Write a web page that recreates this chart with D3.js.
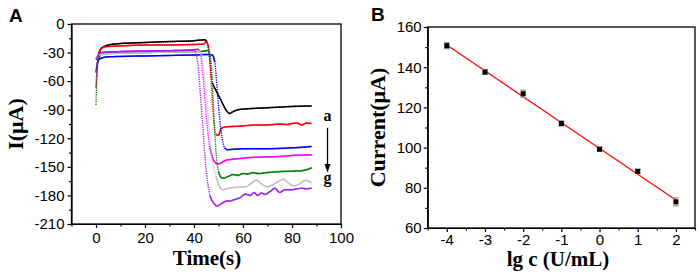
<!DOCTYPE html>
<html lang="en">
<head>
<meta charset="UTF-8">
<title>Current response and calibration</title>
<script src="https://d3js.org/d3.v7.min.js"></script>
<style>
body { margin: 0; background: #fff; }
.tick text { font-family: "Liberation Sans", Arial, sans-serif; font-size: 15px; fill: #000; }
.tick line, .domain { stroke: #000; stroke-width: 1.2; }
.title { font-family: "Liberation Serif", "Times New Roman", serif; font-weight: bold; font-size: 22px; fill: #000; }
.panel { font-family: "Liberation Sans", Arial, sans-serif; font-weight: bold; font-size: 19px; fill: #000; }
</style>
</head>
<body>
<svg width="699" height="275"></svg>
<script>
// ---- panel A: current vs time, curves a..g ([t (s), I (uA)])
var curveA = [[0,-51],[0.5,-40],[1,-32],[2,-26],[3,-24],[5,-22],[10,-20.5],[20,-19.5],[30,-18.5],[40,-17.5],[44.5,-16.5],[45.5,-20],[46.5,-40],[47.5,-62],[49,-70],[51,-80],[53,-90],[54.5,-94],[56,-92],[58,-90],[62,-89],[70,-88],[80,-86.5],[88,-86]];
var curveB = [[0,-67],[0.5,-45],[1,-33],[2,-26],[4,-24],[10,-23],[20,-22],[30,-22],[40,-21.5],[44,-21],[45,-18.5],[46,-25],[47,-60],[48,-100],[49,-116],[50,-117],[51,-110],[53,-108],[56,-107.5],[60,-107],[65,-106],[70,-106],[75,-105],[78,-105.5],[80,-104.5],[82,-104],[84,-106],[86,-104],[88,-104.5]];
var curveC = [[0,-50],[0.5,-42],[1,-38],[2,-36],[5,-34.5],[10,-34],[20,-33.5],[30,-33],[40,-32.5],[46,-32],[47.5,-32.5],[48.5,-40],[49.5,-70],[50.5,-100],[51.5,-120],[52.5,-130],[53.5,-132],[56,-131.5],[60,-131],[70,-131],[80,-130],[88,-128.5]];
var curveD = [[0,-66],[0.5,-45],[1,-33],[2,-30],[5,-29.5],[10,-29],[20,-28.5],[30,-28],[40,-27],[41.5,-26.5],[42.5,-30],[43.5,-50],[44.5,-80],[45.5,-110],[46.5,-130],[48,-143],[49.5,-147],[51,-146],[53,-143],[56,-142],[60,-141],[65,-140],[70,-139.5],[75,-139],[80,-138],[84,-137.5],[88,-137.5]];
var curveE = [[0,-85],[0.5,-50],[1,-37],[2,-32],[4,-31],[10,-30.5],[20,-30],[30,-29.5],[40,-29],[44,-28.5],[46,-27.5],[47,-40],[48,-90],[49,-135],[50,-155],[51,-161],[52,-162],[54,-160],[56,-158],[58,-159],[60,-157],[62,-157.5],[64,-156],[66,-157],[70,-156],[75,-155],[80,-154.5],[84,-154],[86,-153],[88,-151]];
var curveF = [[0,-37],[1,-33],[2,-32],[5,-31],[10,-30.5],[20,-30],[30,-29.5],[40,-29],[42,-28.5],[43,-32],[44,-50],[45,-75],[46,-105],[47,-135],[48,-150],[49,-160],[50,-168],[51,-173],[52,-174],[55,-172],[58,-171.5],[61,-171],[63,-168],[65.5,-164],[67.5,-168],[70,-171],[72,-169],[74,-166],[76.5,-163],[78.5,-167],[81,-170],[83,-168],[85.5,-164],[88,-167]];
var curveG = [[0,-37],[0.5,-35],[1,-32],[2,-30],[5,-29.5],[10,-29],[20,-28.5],[30,-28],[40,-27.5],[40.5,-29],[41.5,-40],[42.5,-70],[43.5,-105],[44.5,-140],[45.5,-165],[46.5,-180],[48,-188],[49.5,-191],[51,-189],[53,-186],[55,-185.5],[57,-184],[59,-182],[61,-178.5],[63,-180],[64.5,-177],[66,-180],[67.5,-177.5],[69,-179],[71,-176],[73,-172.5],[75,-177],[77,-174],[79.5,-174],[82,-173],[84,-172.5],[86,-173],[88,-172.5]];
var curves = [curveA, curveB, curveC, curveD, curveE, curveF, curveG];
var curveColors = ['#000000', '#ff0000', '#0000ff', '#ff00ff', '#008000', '#c0c0c0', '#a020f0'];
var timeTicks = [0, 20, 40, 60, 80, 100];
var currentTicksA = [-210, -180, -150, -120, -90, -60, -30, 0];

// ---- panel B: calibration
var lgc = [-4, -3, -2, -1, 0, 1, 2];
var peakCurrent = [150.7, 137.6, 126.8, 112, 99.2, 88.2, 73];
var currentErr = [1.5, 1.2, 1.8, 1.3, 1, 1, 2];
var lgcTicks = [-4, -3, -2, -1, 0, 1, 2];
var currentTicksB = [60, 80, 100, 120, 140, 160];

var svg = d3.select('svg');
// plain hyphen for negatives, like the original figure
var fmt = function(v) { return String(v); };

// ================= Panel A =================
var xA = d3.scaleLinear().domain([-10, 100]).range([71.5, 341]);
var yA = d3.scaleLinear().domain([-210, 0]).range([224, 24]);

function minorAxis(g, axisFn, scale, vals, size) {
  g.call(axisFn(scale).tickValues(vals).tickSize(size).tickFormat('').tickSizeOuter(0));
  g.select('.domain').remove();
}

var gA = svg.append('g');
gA.append('g').attr('transform', 'translate(0,224)')
  .call(minorAxis, d3.axisBottom, xA, [-10, 10, 30, 50, 70, 90], 2.5);
gA.append('g').attr('transform', 'translate(0,224)')
  .call(d3.axisBottom(xA).tickValues(timeTicks).tickFormat(fmt).tickSize(4).tickSizeOuter(0).tickPadding(4));
gA.append('g').attr('transform', 'translate(71.5,0)')
  .call(minorAxis, d3.axisLeft, yA, d3.range(-195, 0, 30), 2.5);
gA.append('g').attr('transform', 'translate(71.5,0)')
  .call(d3.axisLeft(yA).tickValues(currentTicksA).tickFormat(fmt).tickSize(4).tickSizeOuter(0).tickPadding(3));

var line = d3.line().x(function(d) { return xA(d[0]); }).y(function(d) { return yA(d[1]); })
  .curve(d3.curveMonotoneX);

curves.forEach(function(pts, i) {
  // whole curve dotted (sparse points in the steep parts)
  gA.append('path').datum(pts)
    .attr('d', line).attr('fill', 'none')
    .attr('stroke', curveColors[i]).attr('stroke-width', 1.4)
    .attr('stroke-dasharray', '1.2,1.1');
  // solid where the curve is flat
  var run = [pts[0]];
  for (var k = 1; k < pts.length; k++) {
    var slope = Math.abs((pts[k][1] - pts[k-1][1]) / (pts[k][0] - pts[k-1][0]));
    if (slope < 9) {
      run.push(pts[k]);
    } else {
      if (run.length > 1) drawRun(run, i);
      run = [pts[k]];
    }
  }
  if (run.length > 1) drawRun(run, i);
});

function drawRun(run, i) {
  gA.append('path').datum(run)
    .attr('d', line).attr('fill', 'none')
    .attr('stroke', curveColors[i]).attr('stroke-width', 1.5);
}

gA.append('rect').attr('x', 71.5).attr('y', 24)
  .attr('width', 341 - 71.5).attr('height', 200)
  .attr('fill', 'none').attr('stroke', '#000').attr('stroke-width', 1.3);

// labels a -> g with arrow
var arrowX = xA(94.5);
gA.append('text').attr('class', 'title').attr('x', arrowX).attr('y', yA(-102))
  .attr('text-anchor', 'middle').style('font-size', '16px').text('a');
gA.append('text').attr('class', 'title').attr('x', arrowX).attr('y', yA(-167))
  .attr('text-anchor', 'middle').style('font-size', '16px').text('g');
gA.append('line').attr('x1', arrowX).attr('x2', arrowX)
  .attr('y1', yA(-109)).attr('y2', yA(-148))
  .attr('stroke', '#000').attr('stroke-width', 1.3);
gA.append('path')
  .attr('d', 'M' + (arrowX - 3) + ',' + yA(-147) + 'L' + (arrowX + 3) + ',' + yA(-147) + 'L' + arrowX + ',' + yA(-156) + 'Z')
  .attr('fill', '#000');

gA.append('text').attr('class', 'title')
  .attr('transform', 'translate(23,' + yA(-105) + ') rotate(-90)')
  .attr('text-anchor', 'middle').text('I(μA)');
gA.append('text').attr('class', 'title').style('font-size', '21px')
  .attr('x', 207).attr('y', 265).attr('text-anchor', 'middle').text('Time(s)');
gA.append('text').attr('class', 'panel').attr('x', 9).attr('y', 22).text('A');

// ================= Panel B =================
var xB = d3.scaleLinear().domain([-4.5, 2.5]).range([427.7, 695]);
var yB = d3.scaleLinear().domain([60, 160]).range([228, 27]);

var gB = svg.append('g');
gB.append('g').attr('transform', 'translate(0,228)')
  .call(minorAxis, d3.axisBottom, xB, d3.range(-4.5, 2.6, 1), 2.5);
gB.append('g').attr('transform', 'translate(0,228)')
  .call(d3.axisBottom(xB).tickValues(lgcTicks).tickFormat(fmt).tickSize(4).tickSizeOuter(0).tickPadding(2));
gB.append('g').attr('transform', 'translate(427.7,0)')
  .call(minorAxis, d3.axisLeft, yB, d3.range(70, 160, 20), 2.5);
gB.append('g').attr('transform', 'translate(427.7,0)')
  .call(d3.axisLeft(yB).tickValues(currentTicksB).tickFormat(fmt).tickSize(4).tickSizeOuter(0).tickPadding(2));

// linear fit
var mx = d3.mean(lgc), my = d3.mean(peakCurrent);
var sxy = d3.sum(lgc, function(x, i) { return (x - mx) * (peakCurrent[i] - my); });
var sxx = d3.sum(lgc, function(x) { return (x - mx) * (x - mx); });
var slope = sxy / sxx, intercept = my - slope * mx;
var xs = d3.extent(lgc);
gB.append('line')
  .attr('x1', xB(xs[0])).attr('y1', yB(intercept + slope * xs[0]))
  .attr('x2', xB(xs[1])).attr('y2', yB(intercept + slope * xs[1]))
  .attr('stroke', '#ff0000').attr('stroke-width', 1.2);

// error bars
var pts = lgc.map(function(x, i) { return { x: x, y: peakCurrent[i], e: currentErr[i] }; });
var eb = gB.selectAll('.err').data(pts).enter().append('g').attr('class', 'err')
  .attr('stroke', '#999').attr('stroke-width', 1.2);
eb.append('line')
  .attr('x1', function(d) { return xB(d.x); }).attr('x2', function(d) { return xB(d.x); })
  .attr('y1', function(d) { return yB(d.y + d.e); }).attr('y2', function(d) { return yB(d.y - d.e); });
eb.append('line')
  .attr('x1', function(d) { return xB(d.x) - 3; }).attr('x2', function(d) { return xB(d.x) + 3; })
  .attr('y1', function(d) { return yB(d.y + d.e); }).attr('y2', function(d) { return yB(d.y + d.e); });
eb.append('line')
  .attr('x1', function(d) { return xB(d.x) - 3; }).attr('x2', function(d) { return xB(d.x) + 3; })
  .attr('y1', function(d) { return yB(d.y - d.e); }).attr('y2', function(d) { return yB(d.y - d.e); });

gB.selectAll('.pt').data(pts).enter().append('rect').attr('class', 'pt')
  .attr('x', function(d) { return xB(d.x) - 2.5; }).attr('y', function(d) { return yB(d.y) - 2.5; })
  .attr('width', 5).attr('height', 5).attr('fill', '#000');

gB.append('rect').attr('x', 427.7).attr('y', 27)
  .attr('width', 695 - 427.7).attr('height', 201)
  .attr('fill', 'none').attr('stroke', '#000').attr('stroke-width', 1.3);

gB.append('text').attr('class', 'title')
  .attr('transform', 'translate(385,' + yB(110) + ') rotate(-90)')
  .attr('text-anchor', 'middle').text('Current(μA)');
gB.append('text').attr('class', 'title').style('font-size', '21px')
  .attr('x', 558).attr('y', 266).attr('text-anchor', 'middle').text('lg c (U/mL)');
gB.append('text').attr('class', 'panel').attr('x', 371).attr('y', 21).text('B');
</script>
</body>
</html>
